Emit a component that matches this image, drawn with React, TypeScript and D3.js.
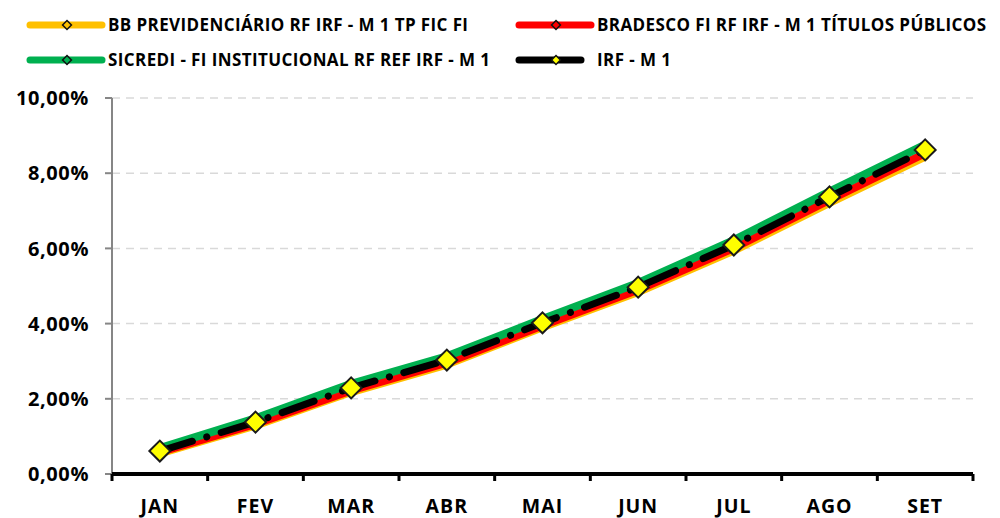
import React, { useRef, useEffect } from "react";
import * as d3 from "d3";

// ---------------------------------------------------------------------------
// DATA (accumulated return, %)
// ---------------------------------------------------------------------------
const months = ["JAN", "FEV", "MAR", "ABR", "MAI", "JUN", "JUL", "AGO", "SET"];
const bbPrev = [0.55, 1.29, 2.18, 2.91, 3.9, 4.84, 5.94, 7.21, 8.44];
const bradesco = [0.58, 1.33, 2.22, 2.96, 3.95, 4.9, 6.01, 7.29, 8.53];
const sicredi = [0.69, 1.48, 2.4, 3.13, 4.12, 5.08, 6.22, 7.51, 8.76];
const irfM1 = [0.61, 1.38, 2.29, 3.03, 4.02, 4.97, 6.09, 7.37, 8.62];
const yTicks = [0, 2, 4, 6, 8, 10];

interface Series {
  name: string;
  color: string;
  values: number[];
  markerFill: string;
  dash?: string;
}

const series: Series[] = [
  { name: "BB PREVIDENCIÁRIO RF IRF - M 1 TP FIC FI", color: "#FFC000", values: bbPrev, markerFill: "#FFC000" },
  { name: "BRADESCO FI RF IRF - M 1 TÍTULOS PÚBLICOS", color: "#FF0000", values: bradesco, markerFill: "#FF0000" },
  { name: "SICREDI - FI INSTITUCIONAL RF REF IRF - M 1", color: "#00B050", values: sicredi, markerFill: "#00B050" },
  { name: "IRF - M 1", color: "#000000", values: irfM1, markerFill: "#FFFF00", dash: "34,15,0.1,15" },
];

export default function App() {
  const svgRef = useRef<SVGSVGElement | null>(null);

  useEffect(() => {
    document.body.style.margin = "0";
    const W = 1000;
    const H = 518;
    const left = 112;
    const right = 973;
    const top = 98;
    const bottom = 474;
    const font = "'Open Sans', Lato, sans-serif";

    const svg = d3.select(svgRef.current);
    svg.selectAll("*").remove();
    svg.attr("width", W).attr("height", H);

    const x = d3.scaleBand<string>().domain(months).range([left, right]);
    const y = d3.scaleLinear().domain([0, 10]).range([bottom, top]);
    const cx = (m: string) => (x(m) ?? 0) + x.bandwidth() / 2;

    // gridlines
    svg
      .append("g")
      .selectAll("line")
      .data(yTicks.filter((t) => t > 0))
      .join("line")
      .attr("x1", left)
      .attr("x2", right)
      .attr("y1", (d) => y(d))
      .attr("y2", (d) => y(d))
      .attr("stroke", "#D9D9D9")
      .attr("stroke-width", 1.5)
      .attr("stroke-dasharray", "8,6");

    // y axis
    svg
      .append("line")
      .attr("x1", left)
      .attr("x2", left)
      .attr("y1", top)
      .attr("y2", bottom)
      .attr("stroke", "#868686")
      .attr("stroke-width", 2);
    svg
      .append("g")
      .selectAll("line")
      .data(yTicks)
      .join("line")
      .attr("x1", left - 7)
      .attr("x2", left)
      .attr("y1", (d) => y(d))
      .attr("y2", (d) => y(d))
      .attr("stroke", "#868686")
      .attr("stroke-width", 2);
    svg
      .append("g")
      .selectAll("text")
      .data(yTicks)
      .join("text")
      .attr("x", 89)
      .attr("y", (d) => y(d))
      .attr("dy", "0.36em")
      .attr("text-anchor", "end")
      .attr("font-family", font)
      .attr("font-weight", "bold")
      .attr("font-size", 20)
      .attr("letter-spacing", 0.6)
      .text((d) => d3.format(".2f")(d).replace(".", ",") + "%");

    // x axis
    svg
      .append("line")
      .attr("x1", left)
      .attr("x2", right)
      .attr("y1", bottom)
      .attr("y2", bottom)
      .attr("stroke", "#000")
      .attr("stroke-width", 4);
    const bounds = months.map((m) => x(m) ?? 0).concat([right]);
    svg
      .append("g")
      .selectAll("line")
      .data(bounds)
      .join("line")
      .attr("x1", (d) => d)
      .attr("x2", (d) => d)
      .attr("y1", bottom)
      .attr("y2", bottom + 7)
      .attr("stroke", "#000")
      .attr("stroke-width", 3);
    svg
      .append("g")
      .selectAll("text")
      .data(months)
      .join("text")
      .attr("x", (d) => cx(d))
      .attr("y", 513)
      .attr("text-anchor", "middle")
      .attr("font-family", font)
      .attr("font-weight", "bold")
      .attr("font-size", 19.5)
      .attr("letter-spacing", 1)
      .text((d) => d);

    // lines
    const lineGen = d3
      .line<number>()
      .x((_, i) => cx(months[i]))
      .y((d) => y(d));

    series.forEach((s) => {
      svg
        .append("path")
        .datum(s.values)
        .attr("fill", "none")
        .attr("stroke", s.color)
        .attr("stroke-width", s.dash ? 7 : 8)
        .attr("stroke-linejoin", "round")
        .attr("stroke-linecap", "round")
        .attr("stroke-dasharray", s.dash ?? null)
        .attr("d", lineGen);
    });

    // diamond markers for IRF - M 1
    const diamond = d3.symbol().type(d3.symbolDiamond2).size(280);
    svg
      .append("g")
      .selectAll("path")
      .data(irfM1)
      .join("path")
      .attr("transform", (d, i) => `translate(${cx(months[i])},${y(d)})`)
      .attr("d", diamond)
      .attr("fill", "#FFFF00")
      .attr("stroke", "#1a1a1a")
      .attr("stroke-width", 2);

    // legend
    const legendPos = [
      { lx: 30, ly: 25, w: 72 },
      { lx: 519, ly: 25, w: 72 },
      { lx: 30, ly: 60, w: 72 },
      { lx: 519, ly: 60, w: 62 },
    ];
    const small = d3.symbol().type(d3.symbolDiamond2).size(50);
    series.forEach((s, i) => {
      const p = legendPos[i];
      const g = svg.append("g");
      g.append("line")
        .attr("x1", p.lx)
        .attr("x2", p.lx + p.w)
        .attr("y1", p.ly)
        .attr("y2", p.ly)
        .attr("stroke", s.color)
        .attr("stroke-width", 7)
        .attr("stroke-linecap", "round");
      g.append("path")
        .attr("transform", `translate(${i % 2 === 0 ? 67 : 556},${p.ly})`)
        .attr("d", small)
        .attr("fill", s.markerFill)
        .attr("stroke", "#111")
        .attr("stroke-width", 1.5);
      g.append("text")
        .attr("x", i % 2 === 0 ? 108 : 597)
        .attr("y", p.ly)
        .attr("dy", "0.36em")
        .attr("font-family", font)
        .attr("font-weight", "bold")
        .attr("font-size", 17)
        .attr("letter-spacing", 0.4)
        .text(s.name);
    });
  }, []);

  return <svg ref={svgRef} style={{ display: "block" }} />;
}
